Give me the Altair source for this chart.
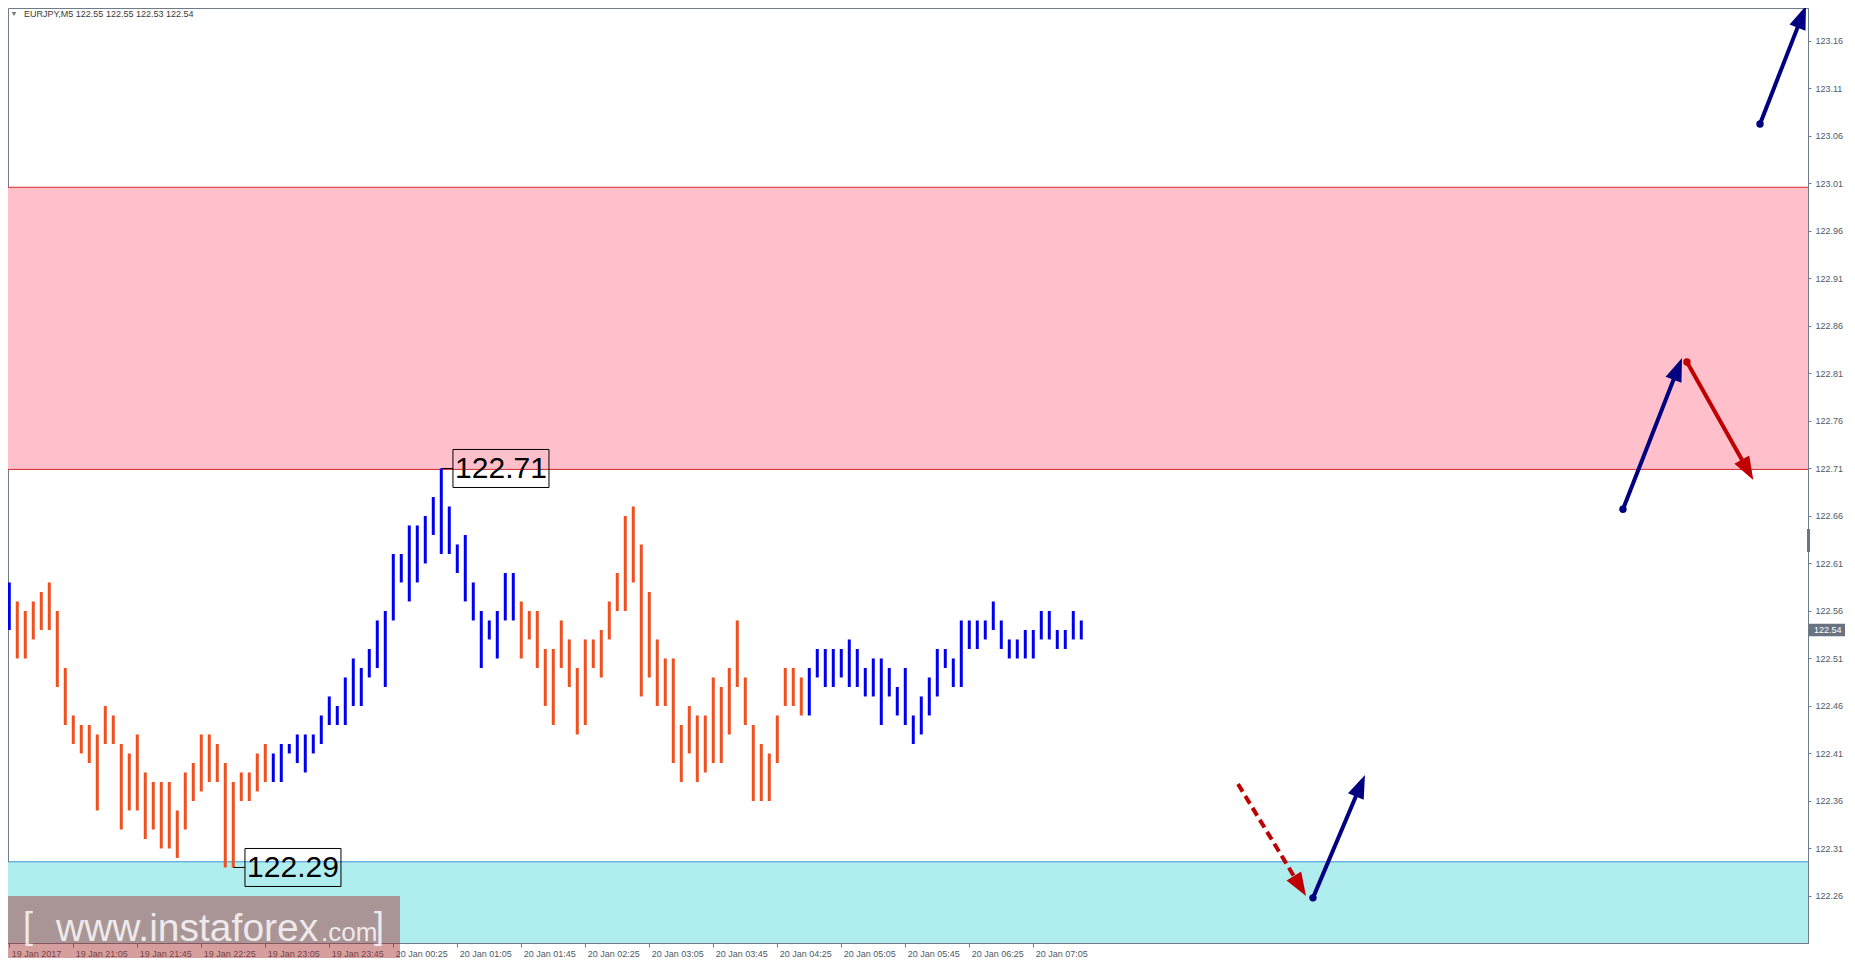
import math
import altair as alt
import pandas as pd

# ---------------- data ----------------
bar_high = [122.59, 122.57, 122.56, 122.57, 122.58, 122.59, 122.56, 122.50, 122.45, 122.44,
            122.44, 122.43, 122.46, 122.45, 122.42, 122.41, 122.43, 122.39, 122.38, 122.38,
            122.38, 122.35, 122.39, 122.40, 122.43, 122.43, 122.42, 122.40, 122.38, 122.39,
            122.39, 122.41, 122.42, 122.41, 122.42, 122.42, 122.43, 122.43, 122.43, 122.45,
            122.47, 122.46, 122.49, 122.51, 122.50, 122.52, 122.55, 122.56, 122.62, 122.62,
            122.65, 122.65, 122.66, 122.68, 122.71, 122.67, 122.63, 122.64, 122.59, 122.56,
            122.55, 122.56, 122.60, 122.60, 122.57, 122.56, 122.56, 122.52, 122.52, 122.55,
            122.53, 122.50, 122.53, 122.53, 122.54, 122.57, 122.60, 122.66, 122.67, 122.63,
            122.58, 122.53, 122.51, 122.51, 122.44, 122.46, 122.45, 122.45, 122.49, 122.48,
            122.50, 122.55, 122.49, 122.44, 122.42, 122.41, 122.45, 122.50, 122.50, 122.49,
            122.50, 122.52, 122.52, 122.52, 122.52, 122.53, 122.52, 122.50, 122.51, 122.51,
            122.50, 122.48, 122.50, 122.45, 122.47, 122.49, 122.52, 122.52, 122.51, 122.55,
            122.55, 122.55, 122.55, 122.57, 122.55, 122.53, 122.53, 122.54, 122.54, 122.56,
            122.56, 122.54, 122.54, 122.56, 122.55]
bar_low = [122.54, 122.51, 122.51, 122.53, 122.54, 122.54, 122.48, 122.44, 122.42, 122.41,
           122.40, 122.35, 122.42, 122.42, 122.33, 122.35, 122.35, 122.32, 122.33, 122.31,
           122.31, 122.30, 122.33, 122.36, 122.37, 122.38, 122.38, 122.29, 122.29, 122.36,
           122.36, 122.37, 122.38, 122.38, 122.38, 122.41, 122.40, 122.39, 122.41, 122.42,
           122.44, 122.44, 122.44, 122.46, 122.46, 122.49, 122.50, 122.48, 122.55, 122.59,
           122.57, 122.59, 122.61, 122.64, 122.62, 122.62, 122.60, 122.57, 122.55, 122.50,
           122.53, 122.51, 122.55, 122.55, 122.51, 122.53, 122.50, 122.46, 122.44, 122.50,
           122.48, 122.43, 122.44, 122.50, 122.49, 122.53, 122.56, 122.56, 122.59, 122.47,
           122.49, 122.46, 122.46, 122.40, 122.38, 122.41, 122.38, 122.39, 122.40, 122.40,
           122.43, 122.48, 122.44, 122.36, 122.36, 122.36, 122.40, 122.46, 122.46, 122.45,
           122.45, 122.49, 122.48, 122.48, 122.49, 122.48, 122.48, 122.47, 122.47, 122.44,
           122.47, 122.45, 122.44, 122.42, 122.43, 122.45, 122.47, 122.50, 122.48, 122.48,
           122.52, 122.52, 122.53, 122.54, 122.52, 122.51, 122.51, 122.51, 122.51, 122.53,
           122.53, 122.52, 122.52, 122.53, 122.53]
wave_start = [0, 1, 33, 64, 100]
wave_kind = ["blue", "orange", "blue", "orange", "blue"]

time_labels = ["19 Jan 2017", "19 Jan 21:05", "19 Jan 21:45", "19 Jan 22:25", "19 Jan 23:05",
               "19 Jan 23:45", "20 Jan 00:25", "20 Jan 01:05", "20 Jan 01:45", "20 Jan 02:25",
               "20 Jan 03:05", "20 Jan 03:45", "20 Jan 04:25", "20 Jan 05:05", "20 Jan 05:45",
               "20 Jan 06:25", "20 Jan 07:05"]
time_tick_bars = [0, 8, 16, 24, 32, 40, 48, 56, 64, 72, 80, 88, 96, 104, 112, 120, 128]
price_ticks = [122.26, 122.31, 122.36, 122.41, 122.46, 122.51, 122.56, 122.61, 122.66, 122.71,
               122.76, 122.81, 122.86, 122.91, 122.96, 123.01, 123.06, 123.11, 123.16]

resistance_zone = [123.006, 122.709]
support_zone_top = [122.296]

extreme_bar = [54, 28]
extreme_price = [122.71, 122.29]
extreme_text = ["122.71", "122.29"]

# forecast arrows: bar-index / price of start and tip
arrow_x0 = [218.84, 201.71, 209.71, 153.59, 162.96]
arrow_y0 = [123.0726, 122.667, 122.8221, 122.3779, 122.258]
arrow_x1 = [224.59, 209.09, 218.00, 162.09, 169.46]
arrow_y1 = [123.197, 122.8263, 122.6979, 122.260, 122.3874]
arrow_colour = ["#000080", "#000080", "#C00000", "#C00000", "#000080"]
arrow_dashed = [False, False, False, True, False]
arrow_dot = [True, True, True, False, True]

header_text = "EURJPY,M5  122.55 122.55 122.53 122.54"
last_price = 122.54

# ---------------- layout ----------------
W, H = 1800, 935
X_DOMAIN = [-0.16, 224.84]
Y_DOMAIN = [122.2105, 123.1947]
PX_X = W / (X_DOMAIN[1] - X_DOMAIN[0])
PX_Y = H / (Y_DOMAIN[1] - Y_DOMAIN[0])
BLUE, ORANGE = "#0000EE", "#EE5020"
AXIS_COL = "#6f7d8b"
LABEL_COL = "#4e5966"

xs = alt.Scale(domain=X_DOMAIN, nice=False, zero=False)
ys = alt.Scale(domain=Y_DOMAIN, nice=False, zero=False)

label_js = "[" + ",".join("'%s'" % t for t in time_labels) + "]"
x_axis = alt.Axis(values=time_tick_bars, labelExpr=label_js + "[round(datum.value/8)]",
                  title=None, grid=False, tickSize=4, labelAlign="left", labelOffset=2,
                  labelPadding=2, labelBaseline="top", labelFont="Liberation Sans",
                  labelFontSize=9, labelColor=LABEL_COL, domainColor=AXIS_COL,
                  tickColor=AXIS_COL, labelOverlap=False, labelFlush=False, labelBound=False)
y_axis = alt.Axis(orient="right", values=price_ticks, format=".2f", title=None, grid=False,
                  tickSize=3, labelPadding=4, labelFont="Liberation Sans", labelFontSize=9,
                  labelColor=LABEL_COL, domainColor=AXIS_COL, tickColor=AXIS_COL,
                  labelOverlap=False, labelFlush=False, labelBound=False)


def X(f):
    return alt.X(f, scale=xs, axis=x_axis)


def Y(f):
    return alt.Y(f, scale=ys, axis=y_axis)


colours = []
for i in range(len(bar_high)):
    k = max(j for j, s in enumerate(wave_start) if s <= i)
    colours.append(BLUE if wave_kind[k] == "blue" else ORANGE)
bars = pd.DataFrame({"i": list(range(len(bar_high))), "high": bar_high,
                     "low": bar_low, "col": colours})

one = pd.DataFrame({"a": [0]})

# zones
pink = alt.Chart(pd.DataFrame({"y": [resistance_zone[0]], "y2": [resistance_zone[1]]})).mark_rect(
    color="#FFC0CB").encode(x=alt.value(0), x2=alt.value(W), y=Y("y:Q"), y2="y2:Q")
pink_lines = alt.Chart(pd.DataFrame({"y": resistance_zone})).mark_rule(
    color="#D42A2A", strokeWidth=1).encode(x=alt.value(0), x2=alt.value(W), y=Y("y:Q"))
cyan = alt.Chart(pd.DataFrame({"y": support_zone_top})).mark_rect(color="#B0EDEE").encode(
    x=alt.value(0), x2=alt.value(W), y=Y("y:Q"), y2=alt.value(H))
cyan_line = alt.Chart(pd.DataFrame({"y": support_zone_top})).mark_rule(
    color="#3d94d9", strokeWidth=1).encode(x=alt.value(0), x2=alt.value(W), y=Y("y:Q"))

bar_layer = alt.Chart(bars).mark_rule(strokeWidth=3).encode(
    x=X("i:Q"), y=Y("high:Q"), y2="low:Q", color=alt.Color("col:N", scale=None))

# extreme labels
ext = pd.DataFrame({"i": extreme_bar, "p": extreme_price, "t": extreme_text})
ext["bx0"] = ext["i"] + 1.46
ext["bx1"] = ext["i"] + 13.46
ext["bxc"] = ext["i"] + 7.46
ext["py0"] = ext["p"] + 0.02
ext["py1"] = ext["p"] - 0.02
ext_conn = alt.Chart(ext).mark_rule(color="black", strokeWidth=1).encode(
    x=X("i:Q"), x2="bx0:Q", y=Y("p:Q"))
ext_box = alt.Chart(ext).mark_rect(fillOpacity=0, stroke="black", strokeWidth=1).encode(
    x=X("bx0:Q"), x2="bx1:Q", y=Y("py0:Q"), y2="py1:Q")
ext_text = alt.Chart(ext).mark_text(font="Liberation Sans", fontSize=30, color="black",
                                    align="center", baseline="middle", dy=1).encode(
    x=X("bxc:Q"), y=Y("p:Q"), text="t:N")

# arrows
HEAD_BACK = 14
rows = []
for k in range(len(arrow_x0)):
    dxp = (arrow_x1[k] - arrow_x0[k]) * PX_X
    dyp = (arrow_y1[k] - arrow_y0[k]) * PX_Y
    L = math.hypot(dxp, dyp)
    ux, uy = dxp / L, dyp / L
    ang = math.degrees(math.atan2(ux, uy)) % 360
    rows.append({"x0": arrow_x0[k], "y0": arrow_y0[k], "x1": arrow_x1[k], "y1": arrow_y1[k],
                 "xe": arrow_x1[k] - ux * HEAD_BACK / PX_X,
                 "ye": arrow_y1[k] - uy * HEAD_BACK / PX_Y,
                 "ang": ang, "col": arrow_colour[k], "dash": arrow_dashed[k],
                 "dot": arrow_dot[k]})
arr = pd.DataFrame(rows)
solid = arr[~arr["dash"]]
dashed = arr[arr["dash"]]


def arrow_lines(df, dash=None):
    kw = dict(strokeWidth=4, strokeCap="butt")
    if dash:
        kw["strokeDash"] = dash
    return alt.Chart(df).mark_rule(**kw).encode(
        x=X("x0:Q"), x2="xe:Q", y=Y("y0:Q"), y2="ye:Q",
        color=alt.Color("col:N", scale=None))


lines_solid = arrow_lines(solid)
lines_dashed = arrow_lines(dashed, [9, 5])
heads = alt.Chart(arr).mark_point(shape="M0,0L0.62,1.7L-0.62,1.7Z", filled=True, size=756,
                                  opacity=1, strokeWidth=0).encode(
    x=X("x1:Q"), y=Y("y1:Q"),
    angle=alt.Angle("ang:Q", scale=None), color=alt.Color("col:N", scale=None))
dots = alt.Chart(arr[arr["dot"]]).mark_circle(size=55, opacity=1).encode(
    x=X("x0:Q"), y=Y("y0:Q"), color=alt.Color("col:N", scale=None))

# header
hdr_tri = alt.Chart(one).mark_point(shape="triangle-down", filled=True, size=22,
                                    color="#7a7a7a", opacity=1).encode(
    x=alt.value(6), y=alt.value(6))
hdr_txt = alt.Chart(one).mark_text(font="Liberation Sans", fontSize=9, color="#3a3a3a",
                                   align="left", baseline="middle").encode(
    x=alt.value(16), y=alt.value(6), text=alt.value(header_text))

# price tag and scroll marker
tag = pd.DataFrame({"p0": [last_price + 0.0066], "p1": [last_price - 0.0066], "p": [last_price],
                    "t": ["%.2f" % last_price]})
tag_rect = alt.Chart(tag).mark_rect(color="#68737f").encode(
    x=alt.value(W + 1), x2=alt.value(W + 37), y=Y("p0:Q"), y2="p1:Q")
tag_text = alt.Chart(tag).mark_text(font="Liberation Sans", fontSize=9, color="white",
                                    align="left", baseline="middle").encode(
    x=alt.value(W + 6), y=Y("p:Q"), text="t:N")
scroll = alt.Chart(one).mark_rect(color="#6a7682").encode(
    x=alt.value(W - 1), x2=alt.value(W + 2), y=alt.value(521), y2=alt.value(544))

# watermark
wm_box = alt.Chart(one).mark_rect(color="#a52a2a", opacity=0.45).encode(
    x=alt.value(0), x2=alt.value(392), y=alt.value(888), y2=alt.value(950))
wm_main = alt.Chart(one).mark_text(font="Liberation Sans", fontSize=39, color="white",
                                   opacity=0.8, align="left", baseline="alphabetic").encode(
    x=alt.value(48), y=alt.value(933), text=alt.value("www.instaforex"))
wm_com = alt.Chart(one).mark_text(font="Liberation Sans", fontSize=26, color="white",
                                  opacity=0.8, align="left", baseline="alphabetic").encode(
    x=alt.value(313), y=alt.value(933), text=alt.value(".com"))
wm_l = alt.Chart(one).mark_text(font="Liberation Sans", fontSize=36, color="white",
                                opacity=0.8, align="left", baseline="alphabetic").encode(
    x=alt.value(15), y=alt.value(930), text=alt.value("["))
wm_r = alt.Chart(one).mark_text(font="Liberation Sans", fontSize=36, color="white",
                                opacity=0.8, align="left", baseline="alphabetic").encode(
    x=alt.value(366), y=alt.value(930), text=alt.value("]"))

chart = alt.layer(
    pink, cyan, pink_lines, cyan_line, bar_layer,
    ext_conn, ext_box, ext_text,
    lines_solid, lines_dashed, heads, dots,
    hdr_tri, hdr_txt, tag_rect, tag_text, scroll,
    wm_box, wm_main, wm_com, wm_l, wm_r,
).properties(
    width=W, height=H,
    autosize=alt.AutoSizeParams(type="none"),
    padding={"left": 0, "top": 0, "right": 39, "bottom": 15},
    background="white",
).configure_view(stroke=AXIS_COL, strokeWidth=1)

chart.save("out.html", embed_options={"renderer": "svg", "actions": False})
